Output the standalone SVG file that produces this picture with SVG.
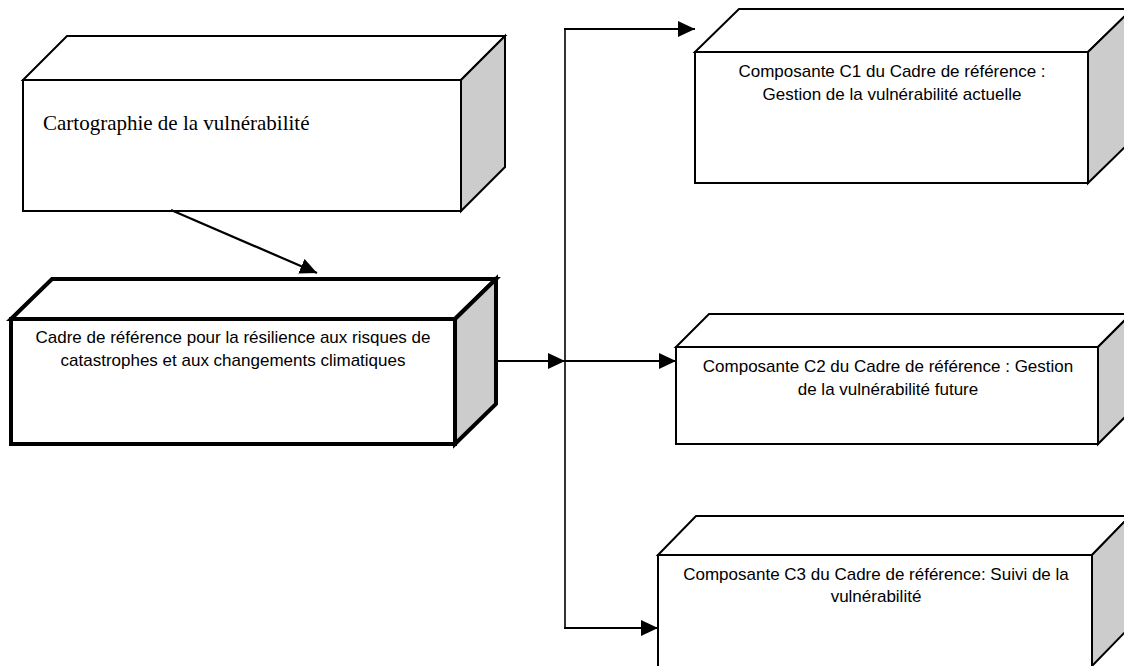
<svg xmlns="http://www.w3.org/2000/svg" width="1124" height="666" viewBox="0 0 1124 666">
<style>
.face{fill:#ffffff;stroke:#000000;stroke-width:2;stroke-linejoin:miter}
.side{fill:#cccccc;stroke:#000000;stroke-width:2;stroke-linejoin:miter}
.thick .face,.thick .side{stroke-width:4}
.sans{font-family:"Liberation Sans",Arial,sans-serif;font-size:17px;fill:#000000;text-anchor:middle}
.serif{font-family:"Liberation Serif","Times New Roman",serif;font-size:21px;fill:#000000}
.conn{fill:none;stroke:#000000;stroke-width:2.2}
.trunk{fill:none;stroke:#000000;stroke-width:1.6}
</style>
<defs>
<marker id="arr" markerWidth="18" markerHeight="16" refX="17" refY="8" orient="auto" markerUnits="userSpaceOnUse">
<path d="M0,0 L17,8 L0,16 Z" fill="#000000"/>
</marker>
</defs>
<rect width="1124" height="666" fill="#ffffff"/>

<g id="carto">
<polygon class="face" points="23,80 67,36 505,36 461,80"/>
<polygon class="side" points="461,80 505,36 505,167 461,211"/>
<rect class="face" x="23" y="80" width="438" height="131"/>
<text class="serif" x="43" y="130">Cartographie de la vulnérabilité</text>
</g>

<g id="cadre" class="thick">
<polygon class="face" points="11,319 52,279 496,279 455,319"/>
<polygon class="side" points="455,319 496,279 496,404 455,444"/>
<rect class="face" x="11" y="319" width="444" height="125"/>
<text class="sans" x="233" y="343">Cadre de référence pour la résilience aux risques de</text>
<text class="sans" x="233" y="366">catastrophes et aux changements climatiques</text>
</g>

<g id="c1">
<polygon class="face" points="695,52 739,9 1132,9 1088,52"/>
<polygon class="side" points="1088,52 1132,9 1132,140 1088,183"/>
<rect class="face" x="695" y="52" width="393" height="131"/>
<text class="sans" x="892" y="77">Composante C1 du Cadre de référence :</text>
<text class="sans" x="892" y="100">Gestion de la vulnérabilité actuelle</text>
</g>

<g id="c2">
<polygon class="face" points="676,347 709,314 1131,314 1098,347"/>
<polygon class="side" points="1098,347 1131,314 1131,411 1098,444"/>
<rect class="face" x="676" y="347" width="422" height="97"/>
<text class="sans" x="888" y="372">Composante C2 du Cadre de référence : Gestion</text>
<text class="sans" x="888" y="395">de la vulnérabilité future</text>
</g>

<g id="c3">
<polygon class="face" points="658,555 696,516 1130,516 1092,555"/>
<polygon class="side" points="1092,555 1130,516 1130,627 1092,666"/>
<rect class="face" x="658" y="555" width="434" height="112"/>
<text class="sans" x="876" y="580">Composante C3 du Cadre de référence: Suivi de la</text>
<text class="sans" x="876" y="602">vulnérabilité</text>
</g>

<g id="connectors">
<line class="conn" x1="171" y1="210" x2="317" y2="273" marker-end="url(#arr)"/>
<line class="conn" x1="496" y1="361" x2="565" y2="361" marker-end="url(#arr)"/>
<line class="conn" x1="565" y1="361" x2="676" y2="361" marker-end="url(#arr)"/>
<line class="trunk" x1="565" y1="29" x2="565" y2="628"/>
<line class="conn" x1="564" y1="29" x2="695" y2="29" marker-end="url(#arr)"/>
<line class="conn" x1="564" y1="628" x2="658" y2="628" marker-end="url(#arr)"/>
</g>
</svg>
